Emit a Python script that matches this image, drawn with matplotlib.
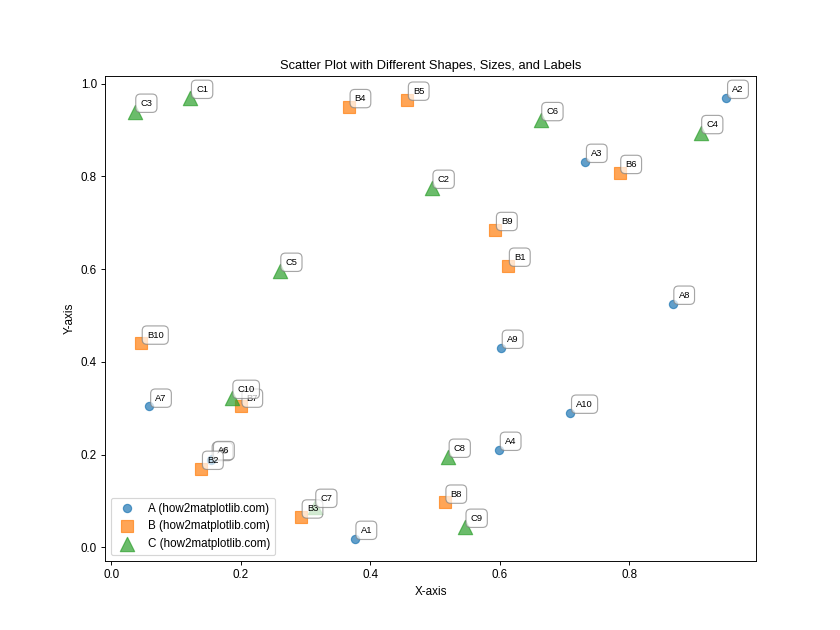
import matplotlib
matplotlib.use("Agg")
import matplotlib.pyplot as plt

plt.rcParams['font.family'] = ['Liberation Sans', 'DejaVu Sans']

# data
a_x = [0.376, 0.950, 0.732, 0.599, 0.154, 0.156, 0.059, 0.867, 0.602, 0.709]
a_y = [0.019, 0.970, 0.832, 0.211, 0.189, 0.191, 0.304, 0.526, 0.431, 0.291]
b_x = [0.613, 0.139, 0.293, 0.367, 0.457, 0.785, 0.200, 0.515, 0.593, 0.046]
b_y = [0.608, 0.170, 0.065, 0.950, 0.966, 0.808, 0.304, 0.097, 0.685, 0.440]
c_x = [0.122, 0.495, 0.036, 0.910, 0.260, 0.663, 0.314, 0.520, 0.546, 0.186]
c_y = [0.970, 0.776, 0.940, 0.894, 0.597, 0.922, 0.088, 0.196, 0.045, 0.323]

groups = [
    ('A', a_x, a_y, 'o', 50),
    ('B', b_x, b_y, 's', 100),
    ('C', c_x, c_y, '^', 150),
]

fig, ax = plt.subplots(figsize=(10, 7.5), dpi=84)

for name, xs, ys, marker, size in groups:
    ax.scatter(xs, ys, marker=marker, s=size, alpha=0.7,
               label=f'{name} (how2matplotlib.com)')
    for i, (x, y) in enumerate(zip(xs, ys)):
        ax.annotate(f'{name}{i + 1}', (x, y), xytext=(5, 5),
                    textcoords='offset points', fontsize=8,
                    bbox=dict(boxstyle='round,pad=0.5', fc='white',
                              ec='gray', alpha=0.7))

ax.set_title('Scatter Plot with Different Shapes, Sizes, and Labels', fontsize=11)
ax.set_xlabel('X-axis')
ax.set_ylabel('Y-axis')
ax.legend(loc='lower left')

fig.savefig('out.png')
